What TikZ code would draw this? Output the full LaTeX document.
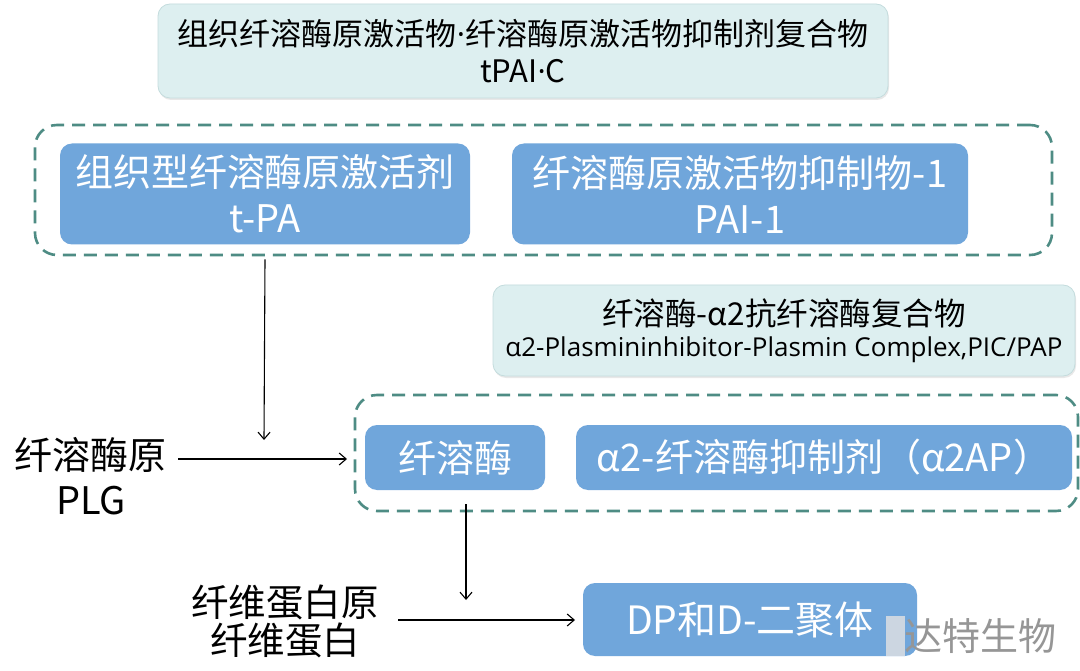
\documentclass[tikz,border=0pt]{standalone}
\usepackage{fontspec}
\setmainfont{Noto Sans CJK SC}
\newfontfamily\latinfont{Open Sans}
\usetikzlibrary{arrows.meta,shadows}
\definecolor{bluefill}{RGB}{112,166,219}
\definecolor{palefill}{RGB}{221,239,240}
\definecolor{paledraw}{RGB}{196,220,221}
\definecolor{dashteal}{RGB}{78,140,132}
\definecolor{wmgray}{RGB}{150,150,150}
\tikzset{
  bluebox/.style={draw=none, fill=bluefill, rounded corners=12pt, text=white, align=center, font=\fontsize{38}{46}\selectfont, inner sep=0pt},
  palebox/.style={draw=paledraw, line width=0.8pt, fill=palefill, rounded corners=12pt, align=center, inner sep=0pt, drop shadow={opacity=0.18, shadow xshift=1pt, shadow yshift=-2pt}},
  dashbox/.style={draw=dashteal, line width=2.6pt, dash pattern=on 13pt off 8pt, rounded corners=22pt, inner sep=0pt},
  plain/.style={align=center, font=\fontsize{37.5}{38}\selectfont, inner sep=0pt},
  conn/.style={draw=black, line width=1.1pt, -{Straight Barb[length=7pt,width=12pt,line width=1.1pt]}}
}
\newcommand{\ldot}{{\latinfont ·}}
\begin{document}
\begin{tikzpicture}[x=1pt,y=-1pt]
\useasboundingbox (0,0) rectangle (1080,671);
\fill[white] (0,0) rectangle (1080,671);
% top complex
\node[palebox, minimum width=730pt, minimum height=94pt, font=\fontsize{31}{37}\selectfont] (tpaic) at (523,51) {组织纤溶酶原激活物\ldot 纤溶酶原激活物抑制剂复合物\\tPAI\ldot C};
% dashed group 1
\node[dashbox, minimum width=1017pt, minimum height=130pt] (grp1) at (543.5,190) {};
\node[bluebox, minimum width=410pt, minimum height=101pt] (tpa) at (265,194) {组织型纤溶酶原激活剂\\t-PA};
\node[bluebox, minimum width=456pt, minimum height=101pt] (pai) at (740,194) {纤溶酶原激活物抑制物-1\\PAI-1};
% PIC complex
\node[palebox, minimum width=582pt, minimum height=91pt] (pic) at (784,330.5) {{\fontsize{31.5}{31.5}\selectfont 纤溶酶-α2抗纤溶酶复合物}\\[8pt]{\latinfont\fontsize{26}{26}\selectfont α2-Plasmininhibitor-Plasmin Complex,PIC/PAP}};
% dashed group 2
\node[dashbox, minimum width=723pt, minimum height=116pt] (grp2) at (716.5,453) {};
\node[bluebox, minimum width=180pt, minimum height=65pt] (plm) at (455,457.5) {纤溶酶};
\node[bluebox, minimum width=496pt, minimum height=65pt] (a2ap) at (824,457.5) {α2-纤溶酶抑制剂（α2AP）};
% left texts
\node[plain, font=\fontsize{38}{45}\selectfont] (plg) at (91,476) {纤溶酶原\\PLG};
\node[plain] (fib) at (285,621) {纤维蛋白原\\纤维蛋白};
% result
\node[bluebox, minimum width=334pt, minimum height=73pt, font=\fontsize{39}{39}\selectfont] (dp) at (750,619.5) {DP和D-二聚体};
% watermark
\fill[gray!22, opacity=0.8] (886,616) rectangle (905,656);
\node[inner sep=0pt, anchor=west, text=wmgray, font=\fontsize{38}{38}\selectfont] (wm) at (904,636) {达特生物};
% connectors
\coordinate (tpaend) at (264,440);
\draw[conn] (tpa.center |- grp1.south) ++(0,3) -- (tpaend);
\coordinate (plgstart) at (178,459);
\coordinate (plgend) at (347,459);
\draw[conn] (plgstart) -- (plgend);
\coordinate (plmstart) at (466,504);
\coordinate (plmend) at (466,600);
\draw[conn] (plmstart) -- (plmend);
\coordinate (fibstart) at (398,620);
\coordinate (fibend) at (575,620);
\draw[conn] (fibstart) -- (fibend);
\end{tikzpicture}
\end{document}
